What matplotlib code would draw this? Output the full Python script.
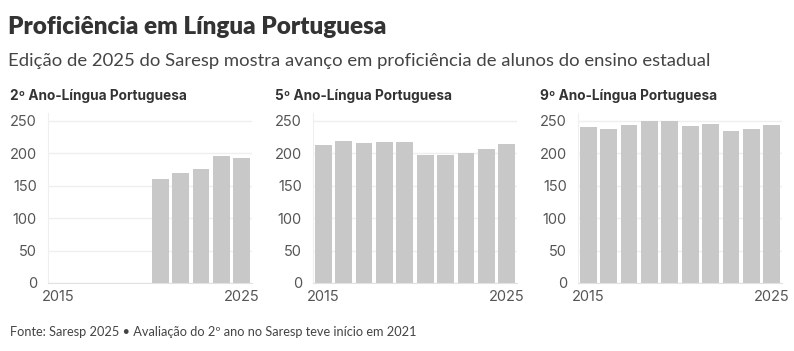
import matplotlib.pyplot as plt

# Saresp editions (no edition in 2020)
years = ["2015", "2016", "2017", "2018", "2019", "2021", "2022", "2023", "2024", "2025"]

# 2º ano only started in 2021
ano2 = [None, None, None, None, None, 161, 169, 175, 196, 192]
ano5 = [213, 219, 215, 218, 217, 198, 197, 201, 207, 214]
ano9 = [241, 238, 243, 250, 250, 242, 245, 235, 237, 244]

panel_titles = ["2º Ano-Língua Portuguesa", "5º Ano-Língua Portuguesa", "9º Ano-Língua Portuguesa"]
yticks = [0, 50, 100, 150, 200, 250]

BAR = "#c8c8c8"
GRID = "#efefef"
TICK = "#555555"


def draw_panel(fig, left, values, title):
    ax = fig.add_axes([left / 794, 1 - 283 / 351, 204 / 794, 170 / 351])
    xs = [i for i, v in enumerate(values) if v is not None]
    hs = [v for v in values if v is not None]
    ax.bar(xs, hs, width=0.82, color=BAR, zorder=2)
    ax.set_xlim(-0.5, len(years) - 0.5)
    ax.set_ylim(0, 262)
    ax.set_yticks(yticks)
    ax.set_yticklabels([str(t) for t in yticks])
    ax.set_xticks([0, len(years) - 1])
    ax.set_xticklabels([years[0], years[-1]])
    ax.grid(axis="y", color=GRID, linewidth=1, zorder=0)
    for s in ["top", "right"]:
        ax.spines[s].set_visible(False)
    ax.spines["left"].set_color(GRID)
    ax.spines["bottom"].set_color("#e2e2e2")
    ax.tick_params(axis="y", length=0, pad=8, labelsize=10.5, labelcolor=TICK)
    ax.tick_params(axis="x", length=0, pad=5, labelsize=10.5, labelcolor=TICK)
    for lab in ax.get_xticklabels() + ax.get_yticklabels():
        lab.set_fontfamily("Inter")
    fig.text((left - 38) / 794, 1 - 96 / 351, title, ha="left", va="center",
             fontsize=9.8, fontweight="bold", color="#333333", family="Inter")
    return ax


fig = plt.figure(figsize=(7.94, 3.51), dpi=100)

fig.text(8 / 794, 1 - 27 / 351, "Proficiência em Língua Portuguesa", ha="left", va="center",
         fontsize=17.5, fontweight="heavy", color="#333333", family="Lato")
fig.text(8 / 794, 1 - 61 / 351,
         "Edição de 2025 do Saresp mostra avanço em proficiência de alunos do ensino estadual",
         ha="left", va="center", fontsize=13.3, color="#444444", family="Lato")

for left, vals, t in zip([48, 313, 578], [ano2, ano5, ano9], panel_titles):
    draw_panel(fig, left, vals, t)

fig.text(10 / 794, 1 - 332 / 351,
         "Fonte: Saresp 2025 • Avaliação do 2º ano no Saresp teve início em 2021",
         ha="left", va="center", fontsize=9.2, color="#444444", family="Lato")

fig.savefig("out.png", dpi=100, facecolor="white")
